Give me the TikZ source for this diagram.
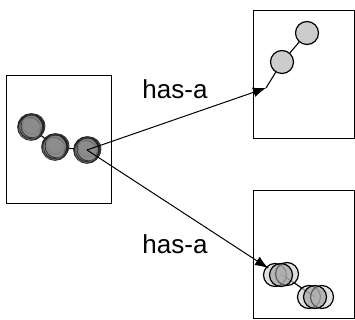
\documentclass[tikz,border=0pt]{standalone}
\usepackage{fontspec}
\setmainfont{Liberation Sans}
\usetikzlibrary{arrows.meta}
\begin{document}
\begin{tikzpicture}[x=1pt,y=-1pt,
 box/.style={draw, line width=1pt, inner sep=0pt, anchor=north west, fill=none},
 ball/.style={circle, draw, line width=1.2pt, fill=black!20, minimum size=23pt, inner sep=0pt},
 darkball/.style={circle, draw=black!85, line width=2.6pt, fill=black!45, minimum size=25pt, inner sep=0pt},
 ring/.style={draw=black!80, line width=0.9pt},
 ghost/.style={circle, draw, line width=1.2pt, fill=black!20, fill opacity=0.6, minimum size=23pt, inner sep=0pt},
 link/.style={line width=1.1pt},
 rel/.style={line width=1pt, -{Latex[length=13pt,width=10pt]}},
 lab/.style={font=\fontsize{26}{30}\selectfont, anchor=base, inner sep=0pt}]
\useasboundingbox (0,0) rectangle (355,320);
\fill[white] (0,0) rectangle (355,320);
% boxes
\node[box, minimum width=105pt, minimum height=128pt] (L) at (6,75) {};
\node[box, minimum width=101pt, minimum height=128pt] (T) at (253,10) {};
\node[box, minimum width=101pt, minimum height=128pt] (B) at (253,190) {};
% left group
\draw[link] (31,127) -- (55,147) -- (87,150);
\node[darkball] (l1) at (31,127) {};
\node[darkball] (l2) at (55,147) {};
\node[darkball] (l3) at (87,150) {};
\foreach \p in {(31,127),(55,147),(87,150)} {
  \draw[ring] \p ++(2,-1) circle (12);
  \draw[ring, black!60] \p ++(-1,1.5) circle (11);
  \draw[ring, black!50] \p ++(0.5,-2) circle (9);
}
% top right group
\node[ball] (t1) at (307,33) {};
\node[ball] (t2) at (282,62) {};
\coordinate (t0) at (266,88);
\draw[link] (t1) -- (t2);
\draw[link] (t0) -- (t2);
% bottom right group
\coordinate (b0) at (268,268);
\draw[link] (281,274) -- (315,297);
\node[ghost] (g1a) at (275,275) {};
\node[ghost] (g1b) at (287,274) {};
\node[ghost, fill=black!40] (g1) at (281,275) {};
\node[ghost] (g2a) at (309,297) {};
\node[ghost] (g2b) at (322,297) {};
\node[ghost, fill=black!40] (g2) at (315,297) {};
\draw[link] (b0) -- (g1a);
% relations
\draw[rel] (l3.center) -- (t0);
\draw[rel] (l3.center) -- (b0);
\node[lab] (h1) at (175,99) {has-a};
\node[lab] (h2) at (175,253) {has-a};
\end{tikzpicture}
\end{document}
